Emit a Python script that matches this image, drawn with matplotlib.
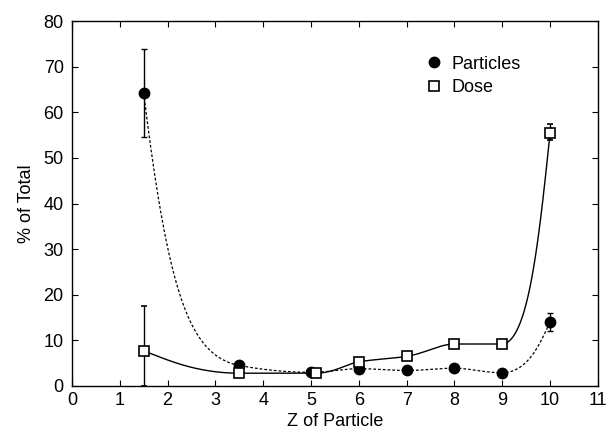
import numpy as np
from matplotlib import pyplot as plt

plt.rcParams['font.family'] = ['Liberation Sans', 'DejaVu Sans']

# Particles
z_part = [1.5, 3.5, 5.0, 6.0, 7.0, 8.0, 9.0, 10.0]
part = [64.2, 4.5, 3.0, 3.8, 3.4, 3.9, 2.9, 14.0]
part_err_lo = [9.7, 0, 0, 0, 0, 0, 0, 2.0]
part_err_hi = [9.7, 0, 0, 0, 0, 0, 0, 2.0]

# Dose
z_dose = [1.5, 3.5, 5.1, 6.0, 7.0, 8.0, 9.0, 10.0]
dose = [7.7, 2.8, 2.8, 5.3, 6.5, 9.2, 9.2, 55.5]
dose_err_lo = [7.7, 0, 0, 0, 0, 0, 0, 1.5]
dose_err_hi = [9.8, 0, 0, 0, 0, 0, 0, 2.0]


def pchip(x, y, xs):
    # monotone cubic through the data points
    x = np.asarray(x, float)
    y = np.asarray(y, float)
    h = np.diff(x)
    d = np.diff(y) / h
    m = np.zeros_like(y)
    for i in range(1, len(x) - 1):
        if d[i - 1] * d[i] > 0:
            w1 = 2 * h[i] + h[i - 1]
            w2 = h[i] + 2 * h[i - 1]
            m[i] = (w1 + w2) / (w1 / d[i - 1] + w2 / d[i])
    m[0] = d[0]
    m[-1] = d[-1]
    out = np.empty_like(xs)
    for j, v in enumerate(xs):
        i = min(max(np.searchsorted(x, v) - 1, 0), len(x) - 2)
        t = (v - x[i]) / h[i]
        h00 = 2 * t**3 - 3 * t**2 + 1
        h10 = t**3 - 2 * t**2 + t
        h01 = -2 * t**3 + 3 * t**2
        h11 = t**3 - t**2
        out[j] = h00 * y[i] + h10 * h[i] * m[i] + h01 * y[i + 1] + h11 * h[i] * m[i + 1]
    return out


def smooth(x, y, xs):
    # smooth the curve in log space
    return np.exp(pchip(x, np.log(y), xs))


fig = plt.figure(figsize=(6.12, 4.34), dpi=100)
ax = fig.add_axes([0.1176, 0.1106, 0.8594, 0.841])

xs = np.linspace(z_part[0], z_part[-1], 500)
ax.plot(xs, smooth(z_part, part, xs), color='black', lw=0.9, ls=(0, (2.2, 1.6)))
xs2 = np.linspace(z_dose[0], z_dose[-1], 500)
ax.plot(xs2, smooth(z_dose, dose, xs2), color='black', lw=1.0)

ax.errorbar(z_part, part, yerr=[part_err_lo, part_err_hi], fmt='o', color='black',
            ms=7.5, elinewidth=1.0, capsize=2.5, capthick=1.0, label='Particles', zorder=3)
ax.errorbar(z_dose, dose, yerr=[dose_err_lo, dose_err_hi], fmt='s', color='black',
            mfc='white', mec='black', mew=1.2, ms=7.5, elinewidth=1.0, capsize=2.5,
            capthick=1.0, label='Dose', zorder=4)

ax.set_xlim(0, 11)
ax.set_ylim(0, 80)
ax.set_xticks(range(0, 12))
ax.set_yticks(range(0, 81, 10))
ax.tick_params(direction='in', top=True, right=True, length=4, labelsize=13, width=0.8)
ax.tick_params(axis='x', pad=4)
ax.tick_params(axis='y', pad=6)
for s in ax.spines.values():
    s.set_linewidth(1.0)
ax.set_xlabel('Z of Particle', fontsize=13, labelpad=3)
ax.set_ylabel('% of Total', fontsize=13, labelpad=6)

handles, labels = ax.get_legend_handles_labels()
handles = [h[0] for h in handles]
ax.legend(handles, labels, loc='upper left', bbox_to_anchor=(0.64, 0.95), frameon=False,
          fontsize=13, handletextpad=0.5, labelspacing=0.35, handlelength=1.0)

plt.savefig('out.png', dpi=100)
